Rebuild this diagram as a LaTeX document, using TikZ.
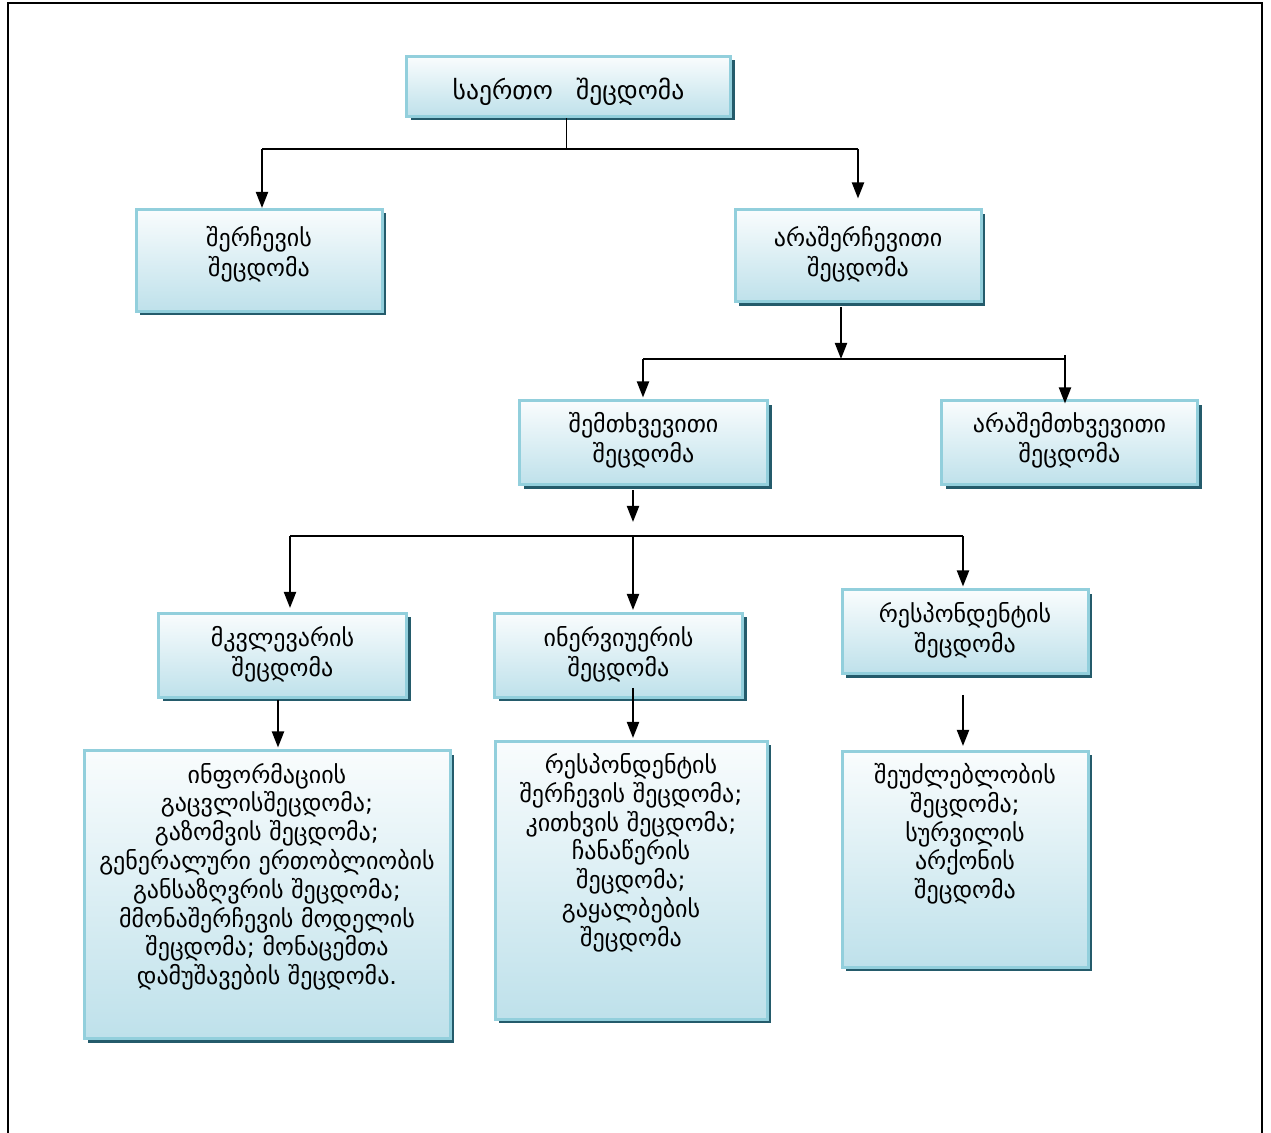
\documentclass[tikz,border=0pt]{standalone}
\usepackage{fontspec}
\setmainfont{DejaVu Sans}
\usetikzlibrary{arrows.meta,shadows}
\definecolor{boxblue}{HTML}{B6DDE8}
\definecolor{boxedge}{HTML}{92CFDC}
\definecolor{shadowc}{HTML}{245B6B}
\pgfdeclareverticalshading{boxshade}{100bp}{color(0bp)=(boxblue); color(18bp)=(boxblue); color(80bp)=(white); color(100bp)=(white!88!boxblue)}
\tikzset{
  box/.style={draw=boxedge, line width=1.5pt, shading=boxshade, align=center,
    inner sep=0pt, font=\fontsize{12}{14.4}\selectfont,
    drop shadow={shadow xshift=2pt, shadow yshift=-2pt, fill=shadowc, opacity=1}},
  arr/.style={line width=1pt, -{Triangle[width=6pt,length=8pt]}},
  thinline/.style={line width=0.55pt},
}
% two centred lines with a fixed baseline distance
\newcommand{\twolines}[2]{\begin{tabular}{@{}c@{}}#1\\[0.6pt]#2\end{tabular}}
% shift text vertically without changing its box
\newcommand{\shiftv}[2]{\raisebox{#1}[\height][\depth]{#2}}
% top-aligned text block for the tall boxes
\newcommand{\topblock}[3]{\parbox[c][#2][t]{#1}{\centering\vspace*{6pt}#3}}
\begin{document}
\begin{tikzpicture}[x=0.5pt,y=-0.5pt]
\useasboundingbox (0,0) rectangle (1271,1133);
% page frame
\draw[line width=1pt] (8,1133) -- (8,3) -- (1262,3) -- (1262,1133);

% boxes
\node[box, minimum width=162pt, minimum height=30pt, font=\fontsize{12.8}{15}\selectfont] (total) at (568.5,86.5) {\shiftv{-2.5pt}{საერთო\hspace{0.9em}შეცდომა}};
\node[box, minimum width=123pt, minimum height=51pt] (sample) at (259,260.5) {\shiftv{2.5pt}{\twolines{შერჩევის}{შეცდომა}}};
\node[box, minimum width=123pt, minimum height=46pt] (nonsample) at (858,256) {\twolines{არაშერჩევითი}{შეცდომა}};
\node[box, minimum width=124pt, minimum height=42pt] (random) at (643.5,443) {\shiftv{0.7pt}{\twolines{შემთხვევითი}{შეცდომა}}};
\node[box, minimum width=128pt, minimum height=42pt] (nonrandom) at (1069.5,443) {\shiftv{0.7pt}{\twolines{არაშემთხვევითი}{შეცდომა}}};
\node[box, minimum width=124pt, minimum height=42pt] (research) at (282.5,655.5) {\twolines{მკვლევარის}{შეცდომა}};
\node[box, minimum width=124pt, minimum height=42pt] (interview) at (618.5,655.5) {\twolines{ინერვიუერის}{შეცდომა}};
\node[box, minimum width=123pt, minimum height=42pt] (respond) at (965,632) {\twolines{რესპონდენტის}{შეცდომა}};
\node[box] (researchlist) at (267,895)
  {\topblock{183pt}{144pt}{ინფორმაციის\\გაცვლისშეცდომა;\\გაზომვის შეცდომა;\\გენერალური ერთობლიობის\\განსაზღვრის შეცდომა;\\მმონაშერჩევის მოდელის\\შეცდომა; მონაცემთა\\დამუშავების შეცდომა.}};
\node[box] (interviewlist) at (631,880.5)
  {\topblock{136pt}{139pt}{რესპონდენტის\\შერჩევის შეცდომა;\\კითხვის შეცდომა;\\ჩანაწერის\\შეცდომა;\\გაყალბების\\შეცდომა}};
\node[box] (respondlist) at (965,859.5)
  {\topblock{123pt}{108pt}{შეუძლებლობის\\შეცდომა;\\სურვილის\\არქონის\\შეცდომა}};

% level 1 connectors
\coordinate (a1) at (262,149);
\coordinate (a2) at (858,149);
\draw[line width=0.8pt] ([xshift=-1pt]total.south) -- ([xshift=-1pt]total.south |- a1);
\draw[thinline] (a1) -- (a2);
\draw[arr] (a1) -- (a1 |- sample.north);
\draw[arr, shorten >=5pt] (a2) -- (a2 |- nonsample.north);

% level 2 connectors
\coordinate (b0) at (841,359);
\coordinate (b1) at (643,359);
\coordinate (b2) at (1065,355);
\draw[arr] ([yshift=-2pt]b0 |- nonsample.south) -- (b0);
\draw[thinline] (b1) -- (b1 -| b2);
\draw[arr, shorten >=1pt] (b1) -- (b1 |- random.north);
\draw[arr, shorten >=-2pt] (b2) -- (b2 |- nonrandom.north);

% level 3 connectors
\coordinate (c0) at (633,522);
\coordinate (c1) at (290,536);
\coordinate (c2) at (633,536);
\coordinate (c3) at (963,536);
\draw[arr] ([yshift=-2pt]c0 |- random.south) -- (c0);
\draw[thinline] (c1) -- (c3);
\draw[arr, shorten >=2pt] (c1) -- (c1 |- research.north);
\draw[arr, shorten >=1pt] (c2) -- (c2 |- interview.north);
\draw[arr, shorten >=1pt] (c3) -- (c3 |- respond.north);

% level 4 connectors
\coordinate (d1) at (278,700);
\coordinate (d2) at (633,688);
\coordinate (d3) at (963,695);
\draw[arr, shorten >=1pt] (d1) -- (d1 |- researchlist.north);
\draw[arr, shorten >=1pt] (d2) -- (d2 |- interviewlist.north);
\draw[arr, shorten >=2pt] (d3) -- (d3 |- respondlist.north);
\end{tikzpicture}
\end{document}
